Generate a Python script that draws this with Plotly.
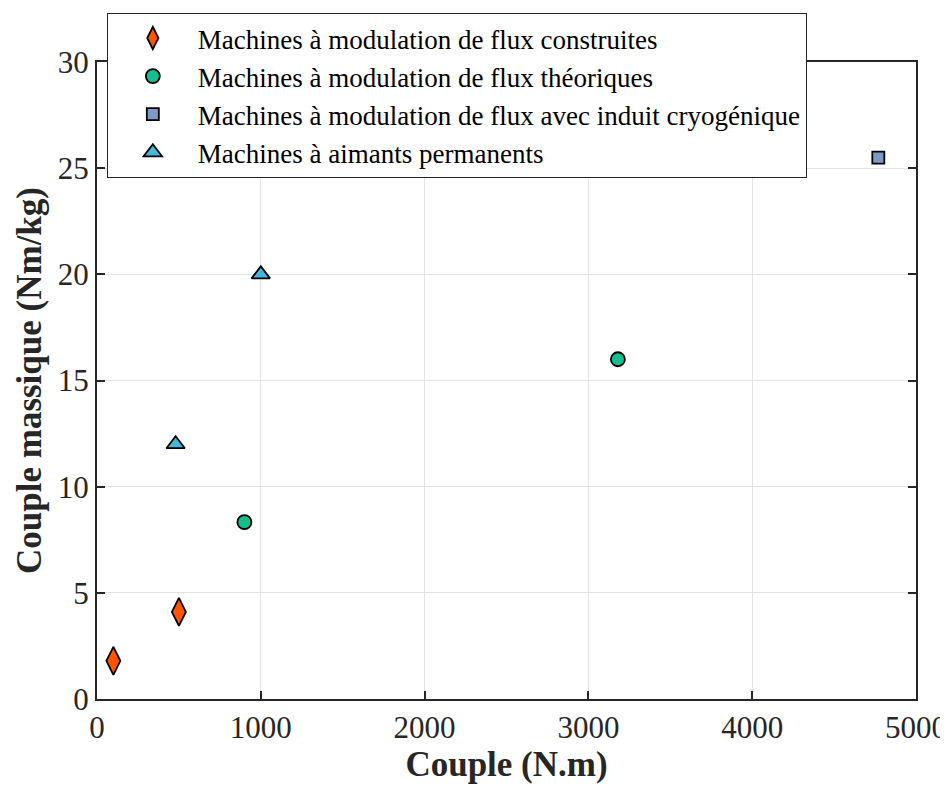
import plotly.graph_objects as go

# Data
names = [
    "Machines à modulation de flux construites",
    "Machines à modulation de flux théoriques",
    "Machines à modulation de flux avec induit cryogénique",
    "Machines à aimants permanents",
]
construites_x = [100, 500]
construites_y = [1.8, 4.1]
theoriques_x = [900, 3180]
theoriques_y = [8.33, 16.0]
cryo_x = [4770]
cryo_y = [25.5]
aimants_x = [480, 1000]
aimants_y = [12.0, 20.0]

x_ticks = [0, 1000, 2000, 3000, 4000, 5000]
y_ticks = [0, 5, 10, 15, 20, 25, 30]

FONT = "Liberation Serif"

fig = go.Figure()
series = [
    (construites_x, construites_y, "diamond-tall", "#FF5500", 20),
    (theoriques_x, theoriques_y, "circle", "#13BF8E", 14),
    (cryo_x, cryo_y, "square", "#7B9BC6", 12),
    (aimants_x, aimants_y, "triangle-up", "#45B8DA", 16),
]
for i, (xs, ys, sym, col, sz) in enumerate(series):
    fig.add_trace(go.Scatter(
        x=xs, y=ys, mode="markers", name=names[i],
        marker=dict(symbol=sym, color=col, size=sz,
                    line=dict(color="black", width=1.8)),
    ))

axis_common = dict(
    showline=True, linecolor="#262626", linewidth=2, mirror="ticks",
    ticks="inside", ticklen=8, tickwidth=2, tickcolor="#262626",
    showgrid=True, gridcolor="#E3E3E3", gridwidth=1, zeroline=False,
    tickfont=dict(family=FONT, size=31, color="#262626"),
    automargin=False,
)
fig.update_xaxes(range=[0, 5000], tickvals=x_ticks,
                 title=dict(text="<b>Couple (N.m)</b>",
                            font=dict(family=FONT, size=35, color="#262626"),
                            standoff=4),
                 **axis_common)
fig.update_yaxes(range=[0, 30], tickvals=y_ticks,
                 title=dict(text="<b>Couple massique (Nm/kg)</b>",
                            font=dict(family=FONT, size=35, color="#262626"),
                            standoff=6),
                 **axis_common)

fig.update_layout(
    width=940, height=784,
    margin=dict(l=89, r=32, t=54, b=93, autoexpand=False),
    plot_bgcolor="white", paper_bgcolor="white",
    showlegend=True,
    legend=dict(
        x=0.012, y=1.077, xanchor="left", yanchor="top",
        bgcolor="white", bordercolor="#262626", borderwidth=1,
        font=dict(family=FONT, size=27, color="black"),
        itemwidth=80,
    ),
)

fig.write_html("out.html")
